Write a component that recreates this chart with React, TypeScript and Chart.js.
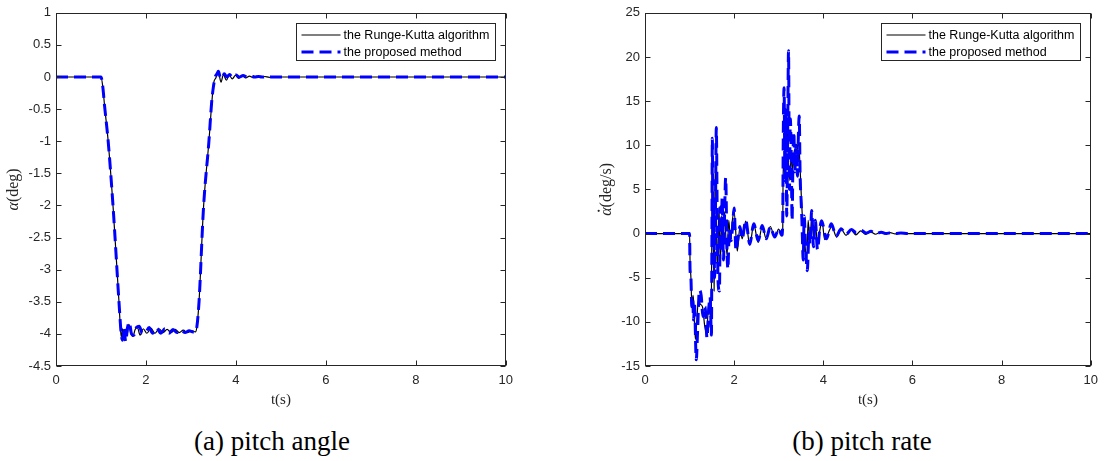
import React, { useEffect, useRef } from "react";
import { Chart, registerables } from "chart.js";

Chart.register(...registerables);

// ---------- data (t [s], value) ----------
const angleRK: [number, number][] = [
  [0, 0], [1.0, 0], [1.04, -0.15], [1.08, -0.45], [1.16, -1.0], [1.27, -2.03], [1.4, -3.5], [1.45, -4.05],
  [1.48, -3.92], [1.51, -4.06], [1.55, -3.95], [1.58, -4.02], [1.62, -3.85], [1.66, -3.98], [1.71, -4.04],
  [1.76, -3.93], [1.81, -3.9], [1.87, -4.02], [1.94, -3.92], [2.02, -3.99], [2.11, -3.91], [2.2, -3.99],
  [2.29, -3.92], [2.38, -3.98], [2.47, -3.93], [2.56, -3.98], [2.65, -3.93], [2.74, -3.98], [2.83, -3.94],
  [2.92, -3.98], [3.01, -3.95], [3.1, -3.97], [3.13, -3.9], [3.18, -3.5], [3.28, -2.03], [3.4, -1.0],
  [3.47, -0.35], [3.51, -0.08], [3.55, -0.02], [3.61, 0.07], [3.67, -0.08], [3.72, 0.035], [3.79, -0.05],
  [3.85, 0.03], [3.92, -0.03], [3.99, 0.025], [4.06, -0.02], [4.14, 0.02], [4.22, -0.015], [4.3, 0.015],
  [4.38, -0.01], [4.46, 0.01], [4.55, -0.008], [4.64, 0.008], [4.74, -0.005], [4.84, 0.005], [5.0, 0], [10, 0],
];

const angleProposed: [number, number][] = [
  [0, 0], [1.0, 0], [1.04, -0.15], [1.08, -0.45], [1.16, -1.0], [1.27, -2.03], [1.4, -3.5], [1.45, -4.0],
  [1.48, -4.1], [1.51, -3.9], [1.55, -4.12], [1.59, -3.9], [1.63, -3.82], [1.68, -4.0], [1.73, -4.02],
  [1.79, -3.9], [1.85, -3.88], [1.92, -3.99], [2.0, -3.97], [2.07, -3.9], [2.15, -3.99], [2.24, -3.91],
  [2.33, -3.99], [2.42, -3.92], [2.51, -3.99], [2.6, -3.93], [2.69, -3.98], [2.78, -3.94], [2.87, -3.98],
  [2.96, -3.95], [3.05, -3.97], [3.1, -3.97], [3.13, -3.9], [3.18, -3.5], [3.28, -2.03], [3.4, -1.0],
  [3.46, -0.4], [3.5, -0.15], [3.54, 0.0], [3.58, 0.05], [3.61, 0.09], [3.65, 0.0], [3.69, -0.02],
  [3.74, 0.05], [3.8, 0.0], [3.86, 0.04], [3.93, -0.01], [4.0, 0.03], [4.08, 0.0], [4.16, 0.025],
  [4.25, 0.0], [4.33, 0.015], [4.42, 0.0], [4.5, 0.01], [4.6, 0.0], [4.7, 0.008], [4.8, 0], [10, 0],
];

const rateRK: [number, number][] = [
  [0, 0], [1.0, 0], [1.01, -3], [1.03, -5], [1.05, -7.9], [1.08, -7], [1.1, -8.5], [1.13, -12], [1.16, -10],
  [1.2, -7.5], [1.24, -8], [1.29, -8.3], [1.34, -10.5], [1.38, -11.3], [1.42, -8.5], [1.45, -7.8], [1.48, -10],
  [1.5, 0], [1.51, 10.5], [1.53, 1], [1.55, -6.5], [1.57, 5], [1.59, 8], [1.61, -1], [1.63, -4], [1.66, 3],
  [1.69, -3.5], [1.72, 2], [1.75, -1.5], [1.78, 2.5], [1.81, 0], [1.84, -2.5], [1.88, 1.5], [1.92, -1],
  [1.96, 1.5], [2.0, 2.5], [2.07, -2.0], [2.13, 0.8], [2.18, -0.6], [2.26, 1.4], [2.35, -1.3], [2.44, 1.0],
  [2.54, -1.0], [2.63, 0.8], [2.72, -0.6], [2.81, 0.8], [2.91, -0.4], [3.0, 0.5], [3.07, -0.2], [3.09, 0.5],
  [3.1, 8], [3.13, 7], [3.16, 10], [3.19, 12], [3.22, 8], [3.25, 6], [3.28, 9], [3.31, 7], [3.35, 9.5],
  [3.4, 9], [3.44, 10.5], [3.47, 8.5], [3.5, 5], [3.53, 2], [3.57, 0.5], [3.6, -2], [3.63, -2.8], [3.66, 1.5],
  [3.7, -1], [3.74, 2.0], [3.78, -0.5], [3.82, 1.2], [3.87, -1.2], [3.92, 0.3], [3.97, 1.5], [4.03, -0.7],
  [4.08, -0.4], [4.13, 0.3], [4.19, 0.8], [4.3, -0.4], [4.4, 0.5], [4.51, -0.2], [4.62, 0.4], [4.73, -0.15],
  [4.84, 0.3], [4.95, -0.1], [5.06, 0.2], [5.17, -0.08], [5.28, 0.15], [5.39, -0.05], [5.5, 0.1],
  [5.61, -0.03], [5.72, 0.05], [5.85, 0], [10, 0],
];

const rateProposed: [number, number][] = [
  [0, 0], [1.0, 0], [1.01, -4], [1.03, -5], [1.05, -8.3], [1.07, -7.5], [1.09, -9.8], [1.11, -8], [1.15, -14.3],
  [1.18, -11], [1.22, -6.4], [1.26, -7], [1.3, -9.4], [1.35, -8.3], [1.39, -11.8], [1.43, -8.5], [1.46, -7.2],
  [1.49, -11.5], [1.5, -2], [1.51, 10.8], [1.53, -1], [1.545, 3.5], [1.56, -5], [1.58, 2], [1.6, 12.0],
  [1.62, 2], [1.64, -5.5], [1.67, -6.5], [1.69, 3], [1.71, -2], [1.73, 4], [1.76, -3], [1.78, 1], [1.81, 6.3],
  [1.84, -2], [1.86, -4.0], [1.89, 0.5], [1.93, -0.8], [1.96, 0.5], [2.0, 2.9], [2.04, -1.9], [2.08, -0.8],
  [2.13, 0.8], [2.18, -0.6], [2.26, 1.5], [2.35, -1.2], [2.44, 1.1], [2.54, -0.8], [2.63, 0.9], [2.72, -0.6],
  [2.81, 0.75], [2.91, -0.4], [3.0, 0.55], [3.07, -0.2], [3.09, 1.5], [3.1, 10], [3.12, 16.5], [3.14, 6],
  [3.16, 14], [3.18, 2], [3.2, 11], [3.22, 20.7], [3.24, 5], [3.26, 13], [3.28, 9], [3.3, 1.5], [3.32, 9],
  [3.34, 11.5], [3.36, 7], [3.39, 10], [3.42, 6.5], [3.44, 11], [3.46, 13.3], [3.48, 6.5], [3.5, 4],
  [3.52, 1.5], [3.55, -3], [3.57, 2], [3.6, -1], [3.64, -4.2], [3.68, 0], [3.7, -1.2], [3.74, 2.6],
  [3.78, -1.5], [3.82, 1.5], [3.87, -1.8], [3.92, 0.5], [3.96, 1.45], [4.07, -0.6], [4.18, 1.1], [4.29, -0.3],
  [4.4, 0.55], [4.51, -0.1], [4.63, 0.45], [4.74, 0.1], [4.85, 0.35], [4.96, 0.05], [5.07, 0.25], [5.18, 0.0],
  [5.3, 0.15], [5.41, 0.0], [5.52, 0.1], [5.63, 0.0], [5.74, 0.05], [5.9, 0], [10, 0],
];

const timeTicks = [0, 2, 4, 6, 8, 10];
const angleTicks = [-4.5, -4, -3.5, -3, -2.5, -2, -1.5, -1, -0.5, 0, 0.5, 1];
const rateTicks = [-15, -10, -5, 0, 5, 10, 15, 20, 25];
const legendLabels = ["the Runge-Kutta algorithm", "the proposed method"];
const captions = ["(a) pitch angle", "(b) pitch rate"];

// ---------- styling ----------
const AXIS_COLOR = "#262626";
const SANS = "'Liberation Sans', Arial, Helvetica, sans-serif";
const SERIF = "'Liberation Serif', 'Times New Roman', 'DejaVu Serif', serif";
const BLUE_DASH = [12, 6];

type TitlePart = { text: string; italic?: boolean; dot?: boolean };

const framePlugin = {
  id: "frame",
  afterDatasetsDraw(chart: any, _args: any, opts: any) {
    const { ctx, chartArea: a } = chart;
    const xs = chart.scales.x;
    const ys = chart.scales.y;
    const L = Math.round(a.left) + 0.5;
    const R = Math.round(a.right) - 0.5;
    const T = Math.round(a.top) + 0.5;
    const B = Math.round(a.bottom) - 0.5;
    ctx.save();
    ctx.strokeStyle = AXIS_COLOR;
    ctx.lineWidth = 1;
    ctx.setLineDash([]);
    ctx.strokeRect(L, T, R - L, B - T);
    const tl = 5;
    ctx.beginPath();
    for (const v of opts.xTicks) {
      const p = Math.round(xs.getPixelForValue(v)) + 0.5;
      ctx.moveTo(p, B); ctx.lineTo(p, B - tl);
      ctx.moveTo(p, T); ctx.lineTo(p, T + tl);
    }
    for (const v of opts.yTicks) {
      const p = Math.round(ys.getPixelForValue(v)) + 0.5;
      ctx.moveTo(L, p); ctx.lineTo(L + tl, p);
      ctx.moveTo(R, p); ctx.lineTo(R - tl, p);
    }
    ctx.stroke();

    // legend box (inside top-right)
    const lw = 199, lh = 37;
    const lx = Math.round(a.right - 11 - lw) + 0.5;
    const ly = Math.round(a.top + 10) + 0.5;
    ctx.fillStyle = "#ffffff";
    ctx.fillRect(lx, ly, lw, lh);
    ctx.strokeStyle = AXIS_COLOR;
    ctx.lineWidth = 1;
    ctx.strokeRect(lx, ly, lw, lh);
    const ds = chart.data.datasets;
    const rows = [ly + 11.5, ly + 28.5];
    ds.forEach((d: any, i: number) => {
      const y = rows[i];
      ctx.save();
      ctx.strokeStyle = d.borderColor;
      ctx.lineWidth = d.borderWidth;
      ctx.setLineDash(d.borderDash || []);
      ctx.beginPath();
      ctx.moveTo(lx + 5, y);
      ctx.lineTo(lx + 44, y);
      ctx.stroke();
      ctx.restore();
      ctx.fillStyle = "#000";
      ctx.font = `12.5px ${SANS}`;
      ctx.textBaseline = "middle";
      ctx.textAlign = "left";
      ctx.fillText(d.label, lx + 47, y + 0.5);
    });

    // axis titles
    const drawParts = (parts: TitlePart[], size: number) => {
      const fonts = parts.map((p) => `${p.italic ? "italic " : ""}${size}px ${SERIF}`);
      let total = 0;
      const widths = parts.map((p, i) => {
        ctx.font = fonts[i];
        const w = ctx.measureText(p.text).width;
        total += w;
        return w;
      });
      let x = -total / 2;
      parts.forEach((p, i) => {
        ctx.font = fonts[i];
        ctx.fillText(p.text, x, 0);
        if (p.dot) {
          ctx.beginPath();
          ctx.arc(x + widths[i] * 0.6, -size * 0.52, size * 0.07, 0, Math.PI * 2);
          ctx.fill();
        }
        x += widths[i];
      });
    };
    ctx.fillStyle = AXIS_COLOR;
    ctx.textBaseline = "middle";
    ctx.textAlign = "left";
    ctx.save();
    ctx.translate((a.left + a.right) / 2, 400);
    drawParts(opts.xTitle, 15);
    ctx.restore();
    ctx.save();
    ctx.translate(opts.yTitleX, (a.top + a.bottom) / 2);
    ctx.rotate(-Math.PI / 2);
    drawParts(opts.yTitle, 16);
    ctx.restore();
    ctx.restore();
  },
};

type PanelCfg = {
  rk: [number, number][];
  prop: [number, number][];
  yTicks: number[];
  yTitle: TitlePart[];
  yTitleX: number;
  yAxisWidth: number;
  padRight: number;
};

function makeChart(canvas: HTMLCanvasElement, cfg: PanelCfg) {
  const toPts = (arr: [number, number][]) => arr.map(([x, y]) => ({ x, y }));
  const tickFont = { family: SANS, size: 13 };
  return new Chart(canvas, {
    type: "line",
    data: {
      datasets: [
        {
          label: legendLabels[0],
          data: toPts(cfg.rk),
          borderColor: "#000000",
          borderWidth: 1.2,
          pointRadius: 0,
          fill: false,
          cubicInterpolationMode: "monotone",
          order: 1,
        },
        {
          label: legendLabels[1],
          data: toPts(cfg.prop),
          borderColor: "#0000ff",
          borderWidth: 3,
          borderDash: BLUE_DASH,
          pointRadius: 0,
          fill: false,
          cubicInterpolationMode: "monotone",
          order: 0,
        },
      ],
    } as any,
    options: {
      responsive: false,
      animation: false,
      events: [],
      layout: { padding: { top: 11, right: cfg.padRight, left: 0, bottom: 0 } },
      plugins: {
        legend: { display: false },
        tooltip: { enabled: false },
        frame: {
          xTicks: timeTicks,
          yTicks: cfg.yTicks,
          xTitle: [{ text: "t(s)" }],
          yTitle: cfg.yTitle,
          yTitleX: cfg.yTitleX,
        },
      } as any,
      scales: {
        x: {
          type: "linear",
          min: timeTicks[0],
          max: timeTicks[timeTicks.length - 1],
          grid: { display: false, drawTicks: false },
          border: { display: false },
          ticks: {
            padding: 7,
            font: tickFont,
            color: AXIS_COLOR,
            maxRotation: 0,
            autoSkip: false,
            callback: (v: any) => String(Math.round(Number(v) * 100) / 100),
          },
          afterBuildTicks: (s: any) => {
            s.ticks = timeTicks.map((value) => ({ value }));
          },
          afterFit: (s: any) => {
            s.height = 54;
          },
        },
        y: {
          type: "linear",
          min: cfg.yTicks[0],
          max: cfg.yTicks[cfg.yTicks.length - 1],
          grid: { display: false, drawTicks: false },
          border: { display: false },
          ticks: {
            padding: 5,
            font: tickFont,
            color: AXIS_COLOR,
            autoSkip: false,
            callback: (v: any) => String(Math.round(Number(v) * 100) / 100),
          },
          afterBuildTicks: (s: any) => {
            s.ticks = cfg.yTicks.map((value) => ({ value }));
          },
          afterFit: (s: any) => {
            s.width = cfg.yAxisWidth;
          },
        },
      },
    } as any,
    plugins: [framePlugin],
  });
}

export default function App() {
  const leftRef = useRef<HTMLCanvasElement | null>(null);
  const rightRef = useRef<HTMLCanvasElement | null>(null);

  useEffect(() => {
    const c1 = makeChart(leftRef.current!, {
      rk: angleRK,
      prop: angleProposed,
      yTicks: angleTicks,
      yTitle: [{ text: "α", italic: true }, { text: "(deg)" }],
      yTitleX: 14,
      yAxisWidth: 56,
      padRight: 13,
    });
    const c2 = makeChart(rightRef.current!, {
      rk: rateRK,
      prop: rateProposed,
      yTicks: rateTicks,
      yTitle: [{ text: "α", italic: true, dot: true }, { text: "(deg/s)" }],
      yTitleX: 17,
      yAxisWidth: 55,
      padRight: 10,
    });
    return () => {
      c1.destroy();
      c2.destroy();
    };
  }, []);

  const capStyle: React.CSSProperties = {
    position: "absolute",
    top: 426,
    height: 30,
    lineHeight: "30px",
    width: 300,
    textAlign: "center",
    fontFamily: SERIF,
    fontSize: 27,
    color: "#000",
    whiteSpace: "nowrap",
  };

  return (
    <div
      style={{
        position: "absolute",
        left: 0,
        top: 0,
        width: 1105,
        height: 461,
        background: "#ffffff",
        overflow: "hidden",
      }}
    >
      <canvas
        ref={leftRef}
        width={520}
        height={420}
        style={{ position: "absolute", left: 0, top: 0, width: 520, height: 420 }}
      />
      <canvas
        ref={rightRef}
        width={515}
        height={420}
        style={{ position: "absolute", left: 590, top: 0, width: 515, height: 420 }}
      />
      <div style={{ ...capStyle, left: 272 - 150 }}>{captions[0]}</div>
      <div style={{ ...capStyle, left: 862 - 150 }}>{captions[1]}</div>
    </div>
  );
}
